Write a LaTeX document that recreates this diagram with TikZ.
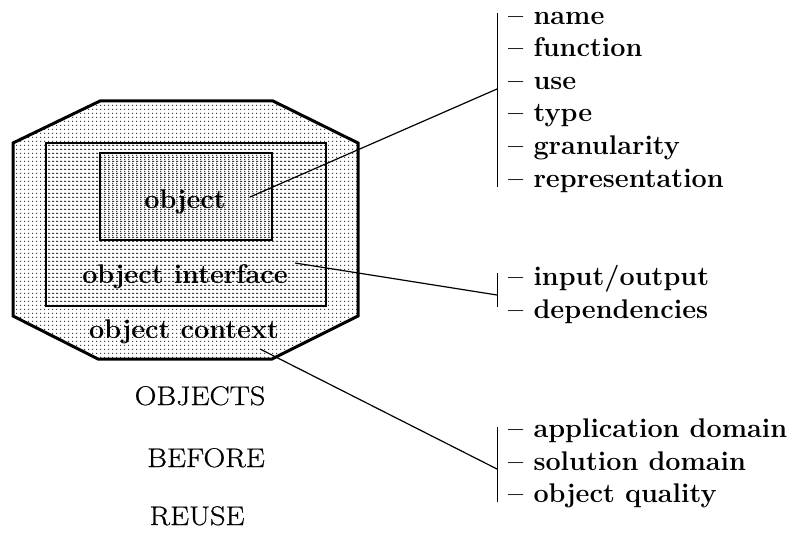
\documentclass[tikz,border=0pt]{standalone}
\usepackage{fontspec}
\newfontfamily\capsfont{Latin Modern Roman}[FakeBold=0.6]
\usetikzlibrary{patterns.meta}
\tikzdeclarepattern{
  name=screendots,
  type=colored,
  bottom left={(0pt,0pt)},
  top right={(3.7pt,3.7pt)},
  tile size={(3.7pt,3.7pt)},
  code={\fill[black] (1.85pt,1.85pt) circle (0.6pt);}
}
\begin{document}
\begin{tikzpicture}[x=1pt,y=-1pt,
  lbl/.style={inner sep=0pt, anchor=base, font=\fontsize{27}{31}\selectfont\bfseries},
  item/.style={inner sep=0pt, anchor=base west, font=\fontsize{27}{31}\selectfont\bfseries},
  bigword/.style={inner sep=0pt, anchor=base, font=\fontsize{27}{32}\capsfont},
  dotted area/.style={pattern=screendots},
  boxframe/.style={draw, line width=2pt, dotted area, inner sep=0pt},
  conn/.style={line width=1.2pt},
  bracket/.style={line width=1pt}]
\useasboundingbox (0,0) rectangle (789,540);

% outer context octagon
\draw[line width=3pt, line join=miter, dotted area]
  (100,101) -- (273,101) -- (358,143) -- (358,316) -- (272,359)
  -- (98,359) -- (13,316) -- (13,143) -- cycle;

% interface and object boxes
\node[boxframe, minimum width=280, minimum height=163] (iface) at (186,224.5) {};
\node[boxframe, minimum width=172, minimum height=87] (obj) at (186,196.5) {};

% labels inside
\node[lbl] (objtxt) at (185,208) {object};
\node[lbl] (ifacetxt) at (185,283) {object interface};
\node[lbl] (ctxtxt) at (184,338) {object context};

% caption
\node[bigword] (w1) at (200,405) {\scalebox{1.12}[1]{OBJECTS}};
\node[bigword] (w2) at (206,467) {\scalebox{1.12}[1]{BEFORE}};
\node[bigword] (w3) at (197,525) {\scalebox{1.12}[1]{REUSE}};

% list 1
\node[item] (l1a) at (508,25) {-- name};
\node[item] (l1b) at (508,57) {-- function};
\node[item] (l1c) at (508,90) {-- use};
\node[item] (l1d) at (508,122) {-- type};
\node[item] (l1e) at (508,155) {-- granularity};
\node[item] (l1f) at (508,188) {-- representation};
% list 2
\node[item] (l2a) at (508,285) {-- input/output};
\node[item] (l2b) at (508,318) {-- dependencies};
% list 3
\node[item] (l3a) at (508,437) {-- application domain};
\node[item] (l3b) at (508,470) {-- solution domain};
\node[item] (l3c) at (508,502) {-- object quality};

% bracket bars
\coordinate (b1t) at (497,13);  \coordinate (b1b) at (497,187);
\coordinate (b2t) at (497,273); \coordinate (b2b) at (497,307);
\coordinate (b3t) at (497,427); \coordinate (b3b) at (497,502);
\draw[bracket] (b1t) -- (b1b);
\draw[bracket] (b2t) -- (b2b);
\draw[bracket] (b3t) -- (b3b);

% connectors
\coordinate (p1) at (250,197); \coordinate (h1) at (497,89);
\coordinate (p2) at (295,263); \coordinate (h2) at (497,295);
\coordinate (p3) at (260,349); \coordinate (h3) at (497,469);
\draw[conn] (p1) -- (h1);
\draw[conn] (p2) -- (h2);
\draw[conn] (p3) -- (h3);
\end{tikzpicture}
\end{document}
